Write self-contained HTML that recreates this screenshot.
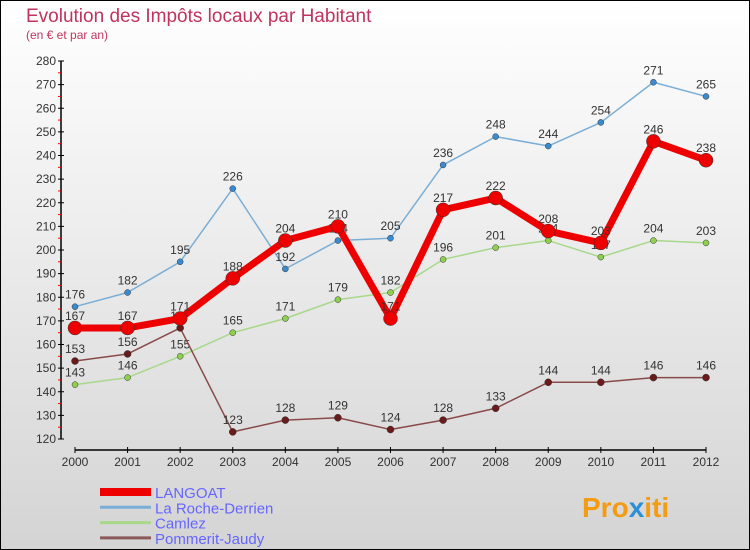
<!DOCTYPE html>
<html><head><meta charset="utf-8"><style>
body{margin:0}
#c{width:750px;height:550px;position:relative;overflow:hidden;font-family:"Liberation Sans",sans-serif}
</style></head><body>
<div id="c">
<svg id="s" width="750" height="550" xmlns="http://www.w3.org/2000/svg">
<defs><linearGradient id="bg" x1="0" y1="0" x2="0" y2="1"><stop offset="0" stop-color="#ffffff"/><stop offset="1" stop-color="#d4d4d4"/></linearGradient></defs>
<rect x="0.5" y="0.5" width="749" height="549" fill="url(#bg)" stroke="#000"/>
<text x="26" y="22" font-size="19" fill="#c0335f">Evolution des Impôts locaux par Habitant</text>
<text x="26" y="39" font-size="12" fill="#c0335f">(en € et par an)</text>
<g id="axes"></g><g id="series"></g><g id="legend"></g>
<text x="582" y="517" font-size="28" font-weight="bold" fill="#f39c12">Pro<tspan fill="#2a8fd6">x</tspan>iti</text>
</svg>
</div>
<script>
const years=[2000,2001,2002,2003,2004,2005,2006,2007,2008,2009,2010,2011,2012];
const yTicks=[120,130,140,150,160,170,180,190,200,210,220,230,240,250,260,270,280];
const langoat=[167,167,171,188,204,210,171,217,222,208,203,246,238];
const roche=[176,182,195,226,192,204,205,236,248,244,254,271,265];
const camlez=[143,146,155,165,171,179,182,196,201,204,197,204,203];
const pommerit=[153,156,167,123,128,129,124,128,133,144,144,146,146];
const NS="http://www.w3.org/2000/svg";
function xs(i){return 75+i*(706-75)/12;}
function ys(v){return 439-(v-120)*(378/160);}
function mk(t,a,p){const e=document.createElementNS(NS,t);for(const k in a)e.setAttribute(k,a[k]);p.appendChild(e);return e;}
const ax=document.getElementById('axes');
let l=mk('line',{x1:61,y1:ys(280),x2:61,y2:ys(120),stroke:'#000','stroke-width':1.5},ax);


l=mk('line',{x1:75,y1:450,x2:706,y2:450,stroke:'#000','stroke-width':1.5},ax);


yTicks.forEach((v,i)=>{
 mk('line',{x1:58,y1:ys(v),x2:64,y2:ys(v),stroke:'#000'},ax);
 if(i<yTicks.length-1) mk('line',{x1:58,y1:ys(v+5),x2:61,y2:ys(v+5),stroke:'#f00'},ax);
 const t=mk('text',{x:56,y:ys(v)+4,'font-size':12,'text-anchor':'end',fill:'#333'},ax);t.textContent=v;
 
 
});
years.forEach((y,i)=>{
 mk('line',{x1:xs(i),y1:447,x2:xs(i),y2:453,stroke:'#000'},ax);
 const t=mk('text',{x:xs(i),y:466,'font-size':12,'text-anchor':'middle',fill:'#333'},ax);t.textContent=y;
 
 
});
const sg=document.getElementById('series');
function draw(vals,color,w,r,dot,name){
 const g=mk('g',{},sg);
 
 
 const p=mk('polyline',{points:vals.map((v,i)=>xs(i)+','+ys(v)).join(' '),fill:'none',stroke:color,'stroke-width':w,'stroke-linejoin':'round'},g);
 
 
 vals.forEach((v,i)=>{
  const c=mk('circle',{cx:xs(i),cy:ys(v),r:r,fill:dot,stroke:'#333','stroke-width':0.5},g);
  
  
  const t=mk('text',{x:xs(i),y:ys(v)-8,'font-size':12,'text-anchor':'middle',fill:'#333'},g);t.textContent=v;
  
  
 });
}
draw(roche,'#7aaed6',1.5,3,'#3a8ad0','la-roche-derrien');
draw(camlez,'#a8d88a',1.5,3,'#8ed04e','camlez');
draw(pommerit,'#8a4a4a',1.5,3.5,'#6a1a1a','pommerit-jaudy');
draw(langoat,'#ee0000',7,7,'#ee0000','langoat');
const lg=document.getElementById('legend');
const names=['LANGOAT','La Roche-Derrien','Camlez','Pommerit-Jaudy'];
const cols=['#ee0000','#7aaed6','#a8d88a','#8a5a5a'];
const wid=[8,3,3,3];
names.forEach((n,i)=>{
 const y=492+i*15.3;
 const ln=mk('line',{x1:100,y1:y,x2:151,y2:y,stroke:cols[i],'stroke-width':wid[i]},lg);
 
 
 const t=mk('text',{x:155,y:y+6,'font-size':15,fill:'#6666ff'},lg);t.textContent=n;
 
 
});
</script>
</body></html>
